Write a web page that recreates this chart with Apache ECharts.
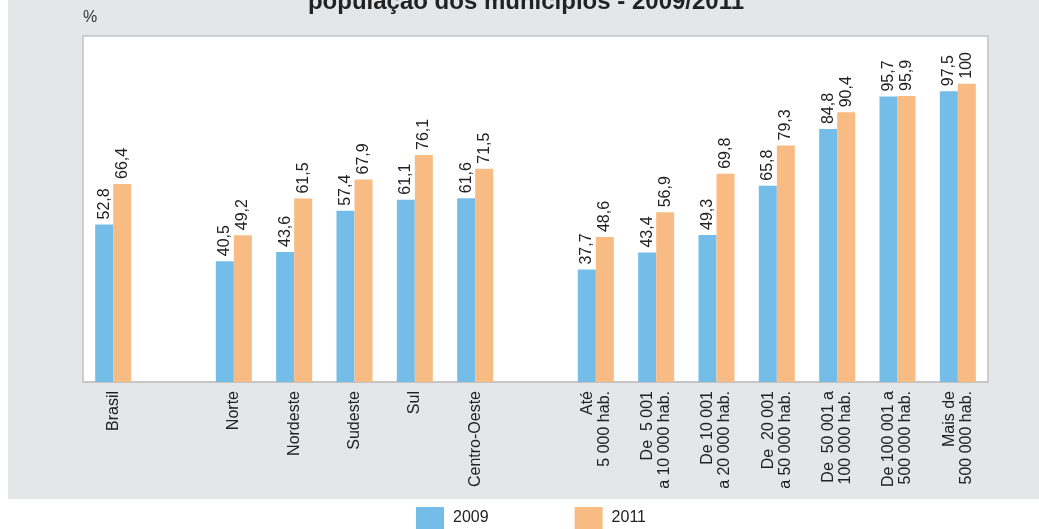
<!DOCTYPE html>
<html>
<head>
<meta charset="utf-8">
<script src="https://cdn.jsdelivr.net/npm/echarts@6/dist/echarts.min.js"></script>
<style>
  html, body { margin: 0; padding: 0; background: #fff; }
  #chart { width: 1039px; height: 529px; }
</style>
</head>
<body>
<div id="chart"></div>
<script>
const categories = [
  'Brasil', '', 'Norte', 'Nordeste', 'Sudeste', 'Sul', 'Centro-Oeste', '',
  'Até\n5 000 hab.', 'De  5 001\na 10 000 hab.', 'De 10 001\na 20 000 hab.',
  'De  20 001\na 50 000 hab.', 'De  50 001 a\n100 000 hab.', 'De 100 001 a\n500 000 hab.',
  'Mais de\n500 000 hab.'
];
const values2009 = [52.8, null, 40.5, 43.6, 57.4, 61.1, 61.6, null, 37.7, 43.4, 49.3, 65.8, 84.8, 95.7, 97.5];
const values2011 = [66.4, null, 49.2, 61.5, 67.9, 76.1, 71.5, null, 48.6, 56.9, 69.8, 79.3, 90.4, 95.9, 100];

const font = '"Liberation Sans", Arial, sans-serif';
const blue = '#74bde8';
const orange = '#f9bb84';

const chart = echarts.init(document.getElementById('chart'));

// value labels use a decimal comma
const labelOpt = {
  show: true,
  position: 'top',
  rotate: 90,
  align: 'left',
  verticalAlign: 'middle',
  distance: 5,
  fontSize: 16,
  fontFamily: font,
  color: '#222',
  formatter: p => String(p.value).replace('.', ',')
};

const option = {
  animation: false,
  backgroundColor: '#fff',
  graphic: [
    {
      type: 'rect',
      silent: true,
      z: -10,
      shape: { x: 8, y: 0, width: 1031, height: 499 },
      style: { fill: '#e5e6e8' }
    },
    {
      type: 'text',
      silent: true,
      x: 526,
      y: 14,
      style: {
        text: 'população dos municípios - 2009/2011',
        align: 'center',
        verticalAlign: 'bottom',
        font: 'bold 24px ' + font,
        fill: '#222'
      }
    }
  ],
  grid: {
    left: 83, right: 51, top: 36, bottom: 147,
    show: true,
    backgroundColor: '#fff',
    borderColor: '#c2c2c2',
    borderWidth: 1.5
  },
  legend: {
    left: 411,
    top: 502,
    itemWidth: 28,
    itemHeight: 22,
    itemGap: 86,
    icon: 'rect',
    textStyle: { fontSize: 16, fontFamily: font, color: '#222', padding: [0, 0, 0, 4] },
    data: ['2009', '2011']
  },
  xAxis: {
    type: 'category',
    data: categories,
    axisTick: { show: false },
    axisLine: { lineStyle: { color: '#c2c2c2', width: 1.5 } },
    axisLabel: {
      interval: 0,
      rotate: 90,
      margin: 9,
      fontSize: 16,
      lineHeight: 17,
      fontFamily: font,
      color: '#222'
    }
  },
  yAxis: {
    type: 'value',
    min: 0,
    max: 116,
    name: '%',
    nameLocation: 'end',
    nameGap: 10,
    nameTextStyle: { align: 'left', fontSize: 16, fontFamily: font, color: '#333' },
    axisLine: { show: false },
    axisTick: { show: false },
    axisLabel: { show: false },
    splitLine: { show: false }
  },
  series: [
    {
      name: '2009',
      type: 'bar',
      data: values2009,
      barWidth: 18,
      barGap: '0%',
      itemStyle: { color: blue },
      label: labelOpt
    },
    {
      name: '2011',
      type: 'bar',
      data: values2011,
      barWidth: 18,
      barGap: '0%',
      itemStyle: { color: orange },
      label: labelOpt
    }
  ]
};

chart.setOption(option);
</script>
</body>
</html>
